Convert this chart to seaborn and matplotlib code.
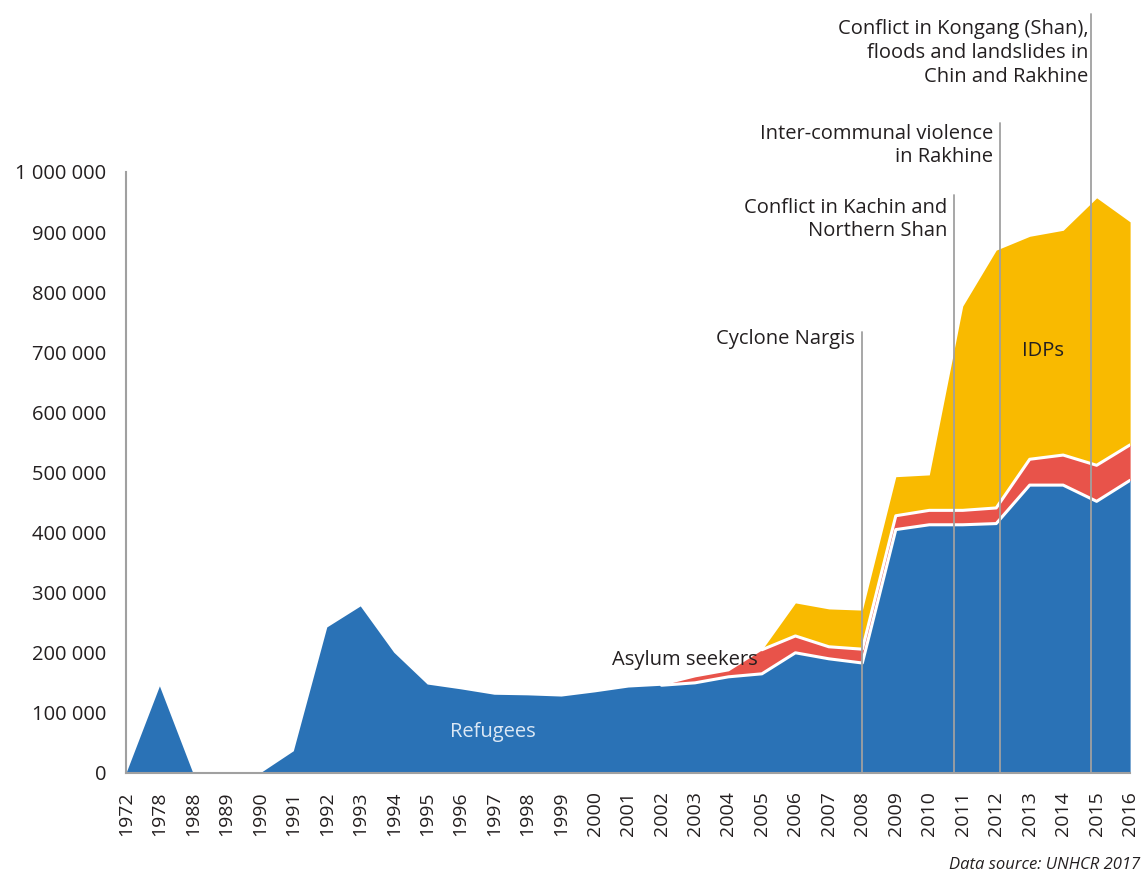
import numpy as np
import pandas as pd
import seaborn as sns
import matplotlib.pyplot as plt

# Myanmar displacement figures
years = ['1972', '1978', '1988', '1989', '1990', '1991', '1992', '1993', '1994',
         '1995', '1996', '1997', '1998', '1999', '2000', '2001', '2002', '2003',
         '2004', '2005', '2006', '2007', '2008', '2009', '2010', '2011', '2012',
         '2013', '2014', '2015', '2016']
refugees = [0, 145000, 0, 0, 0, 37000, 243000, 278000, 201000,
            148000, 140000, 131000, 130000, 128000, 135000, 143000, 146000, 150000,
            160000, 165000, 200000, 190000, 183000, 405000, 413000, 413000, 415000,
            479000, 479000, 452000, 487000]
asylum = [0, 0, 0, 0, 0, 0, 0, 0, 0,
          0, 0, 0, 0, 0, 0, 0, 0, 10000,
          10000, 40000, 28000, 20000, 23000, 23000, 24000, 24000, 26000,
          43000, 50000, 60000, 59000]
idps = [0, 0, 0, 0, 0, 0, 0, 0, 0,
        0, 0, 0, 0, 0, 0, 0, 0, 0,
        0, 0, 55000, 63000, 65000, 65000, 59000, 340000, 429000,
        371000, 374000, 445000, 371000]

# events: (position on category axis, top of marker line, label, label pos, label height)
event_pos = [22.0, 24.75, 26.1, 28.84]
event_top = [734000, 962000, 1081000, 1263000]
event_text = ['Cyclone Nargis',
              'Conflict in Kachin and\nNorthern Shan',
              'Inter-communal violence\nin Rakhine',
              'Conflict in Kongang (Shan),\nfloods and landslides in\nChin and Rakhine']
event_text_x = [21.78, 24.53, 25.9, 28.75]
event_text_y = [722000, 921000, 1044000, 1198000]

df = pd.DataFrame({'year': years, 'Refugees': refugees,
                   'Asylum seekers': asylum, 'IDPs': idps})
df['pos'] = np.arange(len(df))
# white separators only where another layer sits on top
df['top_ref'] = (df['Refugees']).where(df['pos'] >= 16)
df['top_asy'] = (df['Refugees'] + df['Asylum seekers']).where(df['pos'] >= 19)

sns.set_theme(style='white')
plt.rcParams['font.family'] = ['Open Sans', 'DejaVu Sans']
txt = '#231f20'

fig = plt.figure(figsize=(11.45, 8.82), dpi=100)
ax = fig.add_axes([0.110, 0.1236, 0.877, 0.6814])

ax.stackplot(df['pos'], df['Refugees'], df['Asylum seekers'], df['IDPs'],
             colors=['#2a72b6', '#e8534a', '#f9ba00'], linewidth=0, zorder=1)
sns.lineplot(data=df, x='pos', y='top_ref', color='white', lw=2.2, ax=ax, zorder=2)
sns.lineplot(data=df, x='pos', y='top_asy', color='white', lw=2.2, ax=ax, zorder=2)

for x, top, label, tx, ty in zip(event_pos, event_top, event_text, event_text_x, event_text_y):
    ax.plot([x, x], [0, top], color='#a0a0a0', lw=1.3, clip_on=False, zorder=3)
    ax.text(tx, ty, label, ha='right', va='center', fontsize=14.5, color=txt,
            linespacing=1.25, clip_on=False)

ax.text(10.95, 68000, 'Refugees', ha='center', va='center', fontsize=14.5, color='#dce8f5')
ax.text(16.7, 188000, 'Asylum seekers', ha='center', va='center', fontsize=14.5, color=txt)
ax.text(27.4, 702000, 'IDPs', ha='center', va='center', fontsize=14.5, color=txt)

ax.set_xlim(0, len(years) - 1)
ax.set_ylim(0, 1000000)
ax.set_xticks(df['pos'])
ax.set_xticklabels(years, rotation=90, fontsize=14, color=txt)
yt = np.arange(0, 1000001, 100000)
ax.set_yticks(yt)
ax.set_yticklabels(['{:,}'.format(v).replace(',', ' ') for v in yt], fontsize=14.5, color=txt)
ax.tick_params(axis='x', direction='out', length=7, width=1.2, color='#a0a0a0', pad=6)
ax.tick_params(axis='y', length=0, pad=14)
ax.set_xlabel('')
ax.set_ylabel('')
for s in ['top', 'right']:
    ax.spines[s].set_visible(False)
for s in ['left', 'bottom']:
    ax.spines[s].set_color('#a0a0a0')
    ax.spines[s].set_linewidth(1.5)

fig.text(0.996, 0.01, 'Data source: UNHCR 2017', ha='right', va='bottom',
         fontsize=12, style='italic', color=txt)

fig.savefig('out.png', dpi=100)
